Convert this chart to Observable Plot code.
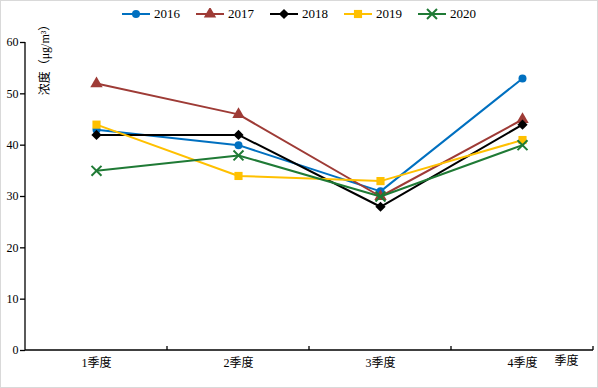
<!DOCTYPE html>
<html><head><meta charset="utf-8">
<script src="https://cdn.jsdelivr.net/npm/d3@7"></script>
<script src="https://cdn.jsdelivr.net/npm/@observablehq/plot@0.6"></script>
<style>
body{margin:0;background:#fff;}
#wrap{position:relative;width:598px;height:388px;font-family:"Liberation Serif","Noto Sans CJK SC",serif;}
#border{position:absolute;left:0;top:0;width:596px;height:386px;border:1px solid #d9d9d9;pointer-events:none;}
#legend{position:absolute;top:6px;left:0;width:598px;display:flex;justify-content:center;align-items:center;font-size:13px;color:#000;}
.item{display:flex;align-items:center;margin:0 8px;}
.item span{margin-left:4px;}
#ylab{position:absolute;left:45px;top:57px;transform:translate(-50%,-50%) rotate(-90deg);white-space:nowrap;font-size:12px;line-height:12px;color:#000;}
</style></head>
<body><div id="wrap"><div id="legend"></div><div id="ylab"></div><div id="border"></div></div>
<script>
const quarters = ["1季度", "2季度", "3季度", "4季度"];
const years = ["2016", "2017", "2018", "2019", "2020"];
const v2016 = [43, 40, 31, 53];
const v2017 = [52, 46, 30, 45];
const v2018 = [42, 42, 28, 44];
const v2019 = [44, 34, 33, 41];
const v2020 = [35, 38, 30, 40];
const yTicks = [0, 10, 20, 30, 40, 50, 60];
const colors = ["#0070C0", "#9E3B36", "#000000", "#FFC000", "#1F7A35"];
const symbols = ["circle", "triangle", "diamond2", "square", "times"];
const yLabel = "浓度（μg/m³）";
const xLabel = "季度";

const values = [v2016, v2017, v2018, v2019, v2020];
const rows = years.flatMap((yr, i) => quarters.map((q, j) => ({year: yr, q, v: values[i][j]})));

const seriesMarks = years.flatMap((yr, i) => {
  const d = rows.filter(r => r.year === yr);
  const filled = symbols[i] !== "times";
  return [
    Plot.line(d, {x: "q", y: "v", stroke: colors[i], strokeWidth: 2}),
    Plot.dot(d, {x: "q", y: "v", symbol: () => symbols[i], r: i === 0 ? 4 : 4.6,
      fill: filled ? colors[i] : "none", stroke: filled ? "none" : colors[i], strokeWidth: 2})
  ];
});

const frameLines = (index, scales, values, dims) => {
  const g = d3.create("svg:g").attr("stroke", "#000").attr("stroke-width", 1.3).attr("fill", "none");
  const x = scales.x, y = scales.y, bw = x.bandwidth ? x.bandwidth() : 0;
  const x0 = dims.marginLeft, x1 = dims.width - dims.marginRight;
  const y0 = y(0);
  g.append("line").attr("x1", x0).attr("x2", x0).attr("y1", y(60)).attr("y2", y0);
  g.append("line").attr("x1", x0).attr("x2", x1).attr("y1", y0).attr("y2", y0);
  quarters.forEach(q => {
    const xb = x(q) + bw;
    g.append("line").attr("x1", xb).attr("x2", xb).attr("y1", y0).attr("y2", y0 - 4);
  });
  return g.node();
};

const chart = Plot.plot({
  width: 598, height: 388,
  marginLeft: 25, marginRight: 5, marginTop: 42, marginBottom: 38,
  style: {fontFamily: '"Liberation Serif","Noto Sans CJK SC",serif', fontSize: "12px", color: "#000", background: "transparent"},
  x: {type: "band", domain: quarters, padding: 0, axis: null},
  y: {domain: [0, 60], axis: null},
  marks: [
    Plot.axisY({ticks: yTicks, tickSize: 5, tickPadding: 2, label: null, stroke: "#000", strokeWidth: 1.3}),
    Plot.axisX({tickSize: 0, tickPadding: 8, label: null}),
    frameLines,
    Plot.text([xLabel], {frameAnchor: "bottom-right", dx: -15, dy: 14, fontSize: 12}),
    ...seriesMarks
  ]
});
document.getElementById("wrap").prepend(chart);
document.getElementById("ylab").textContent = yLabel;

const legend = d3.select("#legend");
years.forEach((yr, i) => {
  const it = legend.append("div").attr("class", "item");
  const s = it.append("svg").attr("width", 28).attr("height", 12);
  s.append("line").attr("x1", 0).attr("x2", 28).attr("y1", 6).attr("y2", 6).attr("stroke", colors[i]).attr("stroke-width", 2);
  const symMap = {circle: d3.symbolCircle, triangle: d3.symbolTriangle, diamond2: d3.symbolDiamond2, square: d3.symbolSquare, times: d3.symbolTimes};
  const area = Math.PI * (i === 0 ? 4 : 4.6) ** 2;
  const filled = symbols[i] !== "times";
  s.append("path").attr("transform", "translate(14,6)").attr("d", d3.symbol(symMap[symbols[i]], area)())
    .attr("fill", filled ? colors[i] : "none").attr("stroke", filled ? "none" : colors[i]).attr("stroke-width", 2);
  it.append("span").text(yr);
});
</script></body></html>
